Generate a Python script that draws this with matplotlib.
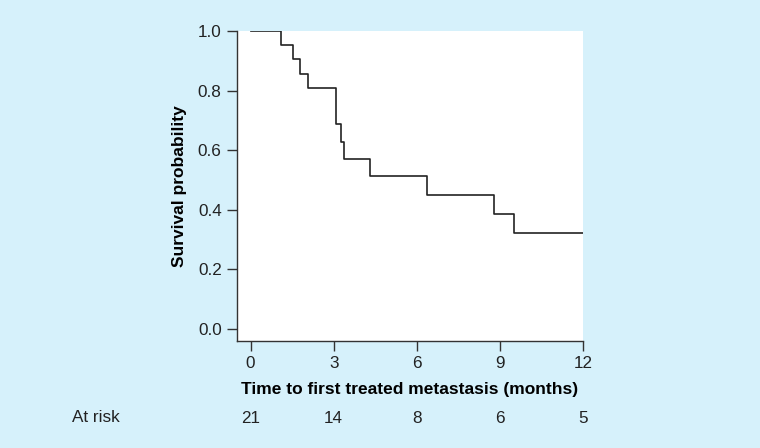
import matplotlib
matplotlib.use("Agg")
import matplotlib.pyplot as plt

plt.rcParams['font.family'] = ['Liberation Sans', 'DejaVu Sans']

# Kaplan-Meier step curve (times in months, survival probability)
times = [0, 1.09, 1.54, 1.78, 2.08, 3.10, 3.28, 3.38, 4.31, 6.37, 8.80, 9.50, 12.0]
surv = [1.0, 0.952, 0.905, 0.857, 0.810, 0.687, 0.628, 0.571, 0.513, 0.449, 0.385, 0.321, 0.321]

x_ticks = [0, 3, 6, 9, 12]
y_ticks = [0.0, 0.2, 0.4, 0.6, 0.8, 1.0]
at_risk = [21, 14, 8, 6, 5]

bg = '#d6f1fb'
fig = plt.figure(figsize=(7.6, 4.48), dpi=100, facecolor=bg)
ax = fig.add_axes([237 / 760, 1 - 341 / 448, 346 / 760, 310 / 448])
ax.set_facecolor('white')

ax.step(times, surv, where='post', color='#222222', linewidth=1.2)

ax.set_xlim(-0.49, 12.0)
ax.set_ylim(-0.04, 1.0)
ax.set_xticks(x_ticks)
ax.set_yticks(y_ticks)
ax.set_yticklabels([f'{v:.1f}' for v in y_ticks])
for s in ['top', 'right']:
    ax.spines[s].set_visible(False)
for s in ['left', 'bottom']:
    ax.spines[s].set_color('#333333')
    ax.spines[s].set_linewidth(1.0)
ax.tick_params(axis='both', direction='out', length=7, width=1.0,
               color='#333333', labelsize=12.3, labelcolor='#222222', pad=4)

ax.set_xlabel('Time to first treated metastasis (months)', fontsize=12.5,
              fontweight='bold', labelpad=8)
ax.set_ylabel('Survival probability', fontsize=12.5, fontweight='bold', labelpad=8)

# numbers at risk below the axis
trans = ax.get_xaxis_transform()
for t, n in zip(x_ticks, at_risk):
    ax.text(t, -0.25, str(n), transform=trans, ha='center', va='center',
            fontsize=12.3, color='#222222', clip_on=False)
fig.text(72 / 760, 1 - 417 / 448, 'At risk', ha='left', va='center',
         fontsize=12.3, color='#222222')

fig.savefig('out.png', dpi=100, facecolor=bg)
